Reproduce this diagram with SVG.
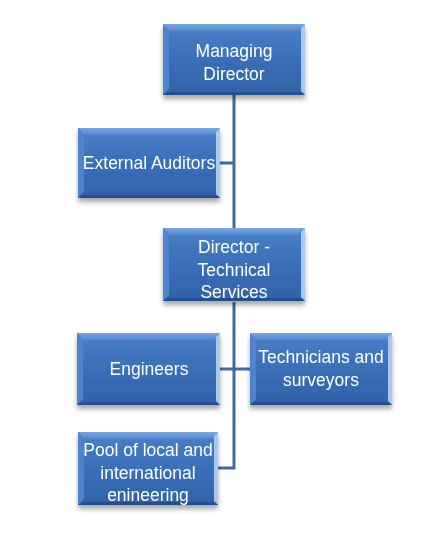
<svg xmlns="http://www.w3.org/2000/svg" width="430" height="543" viewBox="0 0 430 543">
<defs>
<linearGradient id="g" x1="0" y1="0" x2="0" y2="1">
<stop offset="0" stop-color="#4a80c8"/>
<stop offset="0.5" stop-color="#3a6fb8"/>
<stop offset="1" stop-color="#2f62a8"/>
</linearGradient>
<linearGradient id="top" x1="0" y1="0" x2="0" y2="1">
<stop offset="0" stop-color="#7aa6e0"/>
<stop offset="1" stop-color="#5587cf"/>
</linearGradient>
<filter id="sh" x="-10%" y="-10%" width="125%" height="135%">
<feGaussianBlur in="SourceAlpha" stdDeviation="2.5"/>
<feOffset dx="0" dy="4" result="b"/>
<feComponentTransfer><feFuncA type="linear" slope="0.35"/></feComponentTransfer>
<feMerge><feMergeNode/><feMergeNode in="SourceGraphic"/></feMerge>
</filter>
</defs>
<style>
.box{fill:url(#g);}
.bt{fill:url(#top);}
.bl{fill:#4f84cc;}
.br{fill:#a9c8ee;}
.bb{fill:#24508f;}
.t{font-family:"Liberation Sans",Arial,sans-serif;font-size:17.5px;fill:#ffffff;text-anchor:middle;}
.c{fill:none;stroke:#3f6aa3;stroke-width:3;}
</style>
<rect width="430" height="543" fill="#ffffff"/>
<g id="connectors">
<path class="c" d="M234 95 V228"/>
<path class="c" d="M220 163 H234"/>
<path class="c" d="M234 302 V468 H218"/>
<path class="c" d="M220 369 H250"/>
</g>
<g id="managing-director" filter="url(#sh)">
<rect class="box" x="163" y="24" width="142" height="71"/>
<polygon class="bt" points="163,24 305,24 299,31 169,31"/>
<polygon class="bl" points="163,24 169,31 169,89 163,95"/>
<polygon class="br" points="305,24 305,95 301,91 301,28"/>
<polygon class="bb" points="163,95 305,95 301,92 167,92"/>
<text class="t" x="234" y="57">Managing</text>
<text class="t" x="234" y="80">Director</text>
</g>
<g id="external-auditors" filter="url(#sh)">
<rect class="box" x="78" y="128" width="142" height="70"/>
<polygon class="bt" points="78,128 220,128 214,135 84,135"/>
<polygon class="bl" points="78,128 84,135 84,192 78,198"/>
<polygon class="br" points="220,128 220,198 216,194 216,132"/>
<polygon class="bb" points="78,198 220,198 216,195 82,195"/>
<text class="t" x="149" y="169">External Auditors</text>
</g>
<g id="director-technical-services" filter="url(#sh)">
<rect class="box" x="163" y="228" width="142" height="73"/>
<polygon class="bt" points="163,228 305,228 299,235 169,235"/>
<polygon class="bl" points="163,228 169,235 169,295 163,301"/>
<polygon class="br" points="305,228 305,301 301,297 301,232"/>
<polygon class="bb" points="163,301 305,301 301,298 167,298"/>
<text class="t" x="234" y="253">Director -</text>
<text class="t" x="234" y="276">Technical</text>
<text class="t" x="234" y="298">Services</text>
</g>
<g id="engineers" filter="url(#sh)">
<rect class="box" x="77" y="333" width="143" height="72"/>
<polygon class="bt" points="77,333 220,333 214,340 83,340"/>
<polygon class="bl" points="77,333 83,340 83,399 77,405"/>
<polygon class="br" points="220,333 220,405 216,401 216,337"/>
<polygon class="bb" points="77,405 220,405 216,402 81,402"/>
<text class="t" x="149" y="375">Engineers</text>
</g>
<g id="technicians-surveyors" filter="url(#sh)">
<rect class="box" x="250" y="333" width="142" height="72"/>
<polygon class="bt" points="250,333 392,333 386,340 256,340"/>
<polygon class="bl" points="250,333 256,340 256,399 250,405"/>
<polygon class="br" points="392,333 392,405 388,401 388,337"/>
<polygon class="bb" points="250,405 392,405 388,402 254,402"/>
<text class="t" x="321" y="363">Technicians and</text>
<text class="t" x="321" y="386">surveyors</text>
</g>
<g id="pool-engineering" filter="url(#sh)">
<rect class="box" x="78" y="432" width="140" height="73"/>
<polygon class="bt" points="78,432 218,432 212,439 84,439"/>
<polygon class="bl" points="78,432 84,439 84,499 78,505"/>
<polygon class="br" points="218,432 218,505 214,501 214,436"/>
<polygon class="bb" points="78,505 218,505 214,502 82,502"/>
<text class="t" x="148" y="456">Pool of local and</text>
<text class="t" x="148" y="479">international</text>
<text class="t" x="148" y="501">enineering</text>
</g>
</svg>
